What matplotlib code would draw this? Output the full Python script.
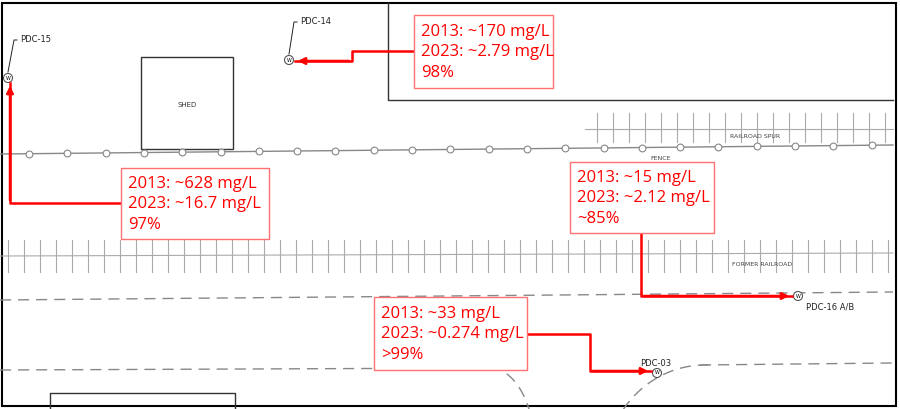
import numpy as np
import matplotlib.pyplot as plt
from matplotlib.patches import Rectangle, Circle

# Well data
wells = ["PDC-15", "PDC-14", "PDC-16 A/B", "PDC-03"]
conc_2013 = ["~628", "~170", "~15", "~33"]
conc_2023 = ["~16.7", "~2.79", "~2.12", "~0.274"]
reduction = ["97%", "98%", "~85%", ">99%"]

well_xy = [(8, 78), (289, 60), (798, 296), (657, 373)]
label_xy = [(20, 40), (300, 22), (806, 307), (640, 363)]
box_xy = [(121, 168, 148, 71), (414, 15, 139, 73), (570, 162, 144, 71), (374, 297, 153, 73)]
arrow_paths = [
    [(121, 203), (10, 203), (10, 83)],
    [(414, 51), (352, 51), (352, 61), (295, 61)],
    [(641, 233), (641, 296), (792, 296)],
    [(527, 334), (590, 334), (590, 371), (651, 371)],
]

fig = plt.figure(figsize=(9, 4.09), dpi=100)
ax = fig.add_axes([0, 0, 1, 1])
ax.set_xlim(0, 900)
ax.set_ylim(409, 0)
ax.axis("off")

grey = "#888888"
# border
ax.add_patch(Rectangle((2, 3), 894, 403, fill=False, ec="black", lw=1.5))
# building
ax.plot([388, 388, 893], [3, 100, 100], color="#333333", lw=1)
# shed
ax.add_patch(Rectangle((141, 57), 92, 92, fill=False, ec="#333333", lw=1))
ax.text(187, 105, "SHED", fontsize=5, ha="center", va="center", color="#333333")
# bottom-left structure
ax.plot([50, 50, 235, 235], [409, 393, 393, 409], color="#333333", lw=1)

# fence
fx = np.arange(29, 893, 38.3)
ax.plot([0, 893], [154, 145], color=grey, lw=1)
fy = 154 - (fx / 893) * 9
ax.scatter(fx, fy, s=24, facecolor="white", edgecolor=grey, lw=0.8, zorder=3)
ax.text(661, 158, "FENCE", fontsize=4.5, ha="center", va="center", color="#444444")

# railroad spur
ax.plot([585, 893], [129, 129], color="#aaaaaa", lw=0.8)
for x in np.arange(597, 893, 16):
    ax.plot([x, x], [113, 142], color="#aaaaaa", lw=0.8)
ax.text(755, 136, "RAILROAD SPUR", fontsize=4.5, ha="center", va="center", color="#444444")

# former railroad
ax.plot([0, 893], [256, 253], color="#aaaaaa", lw=0.8)
for x in np.arange(8, 893, 16):
    ax.plot([x, x], [240, 272], color="#aaaaaa", lw=0.8)
ax.text(762, 264, "FORMER RAILROAD", fontsize=4.5, ha="center", va="center", color="#444444")

# dashed roads
dash = dict(color=grey, lw=1, ls=(0, (8, 5)))
ax.plot([0, 893], [300, 292], **dash)
ax.plot([0, 490], [370, 368], **dash)
ax.plot([700, 893], [365, 363], **dash)
t = np.radians(np.linspace(-90, -25, 40))
ax.plot(490 + 45 * np.cos(t), 450 + 82 * np.sin(t), **dash)
t = np.radians(np.linspace(-150, -88, 40))
ax.plot(705 + 100 * np.cos(t), 470 + 105 * np.sin(t), **dash)

# wells
for (wx, wy), (lx, ly), name in zip(well_xy, label_xy, wells):
    ax.add_patch(Circle((wx, wy), 4.5, fc="white", ec="#555555", lw=0.8, zorder=4))
    ax.text(wx, wy, "W", fontsize=3.5, ha="center", va="center", zorder=5)
    ax.text(lx, ly, name, fontsize=6, ha="left", va="center", color="#222222")
    if name in ("PDC-15", "PDC-14"):
        ax.plot([lx - 3, lx - 6, wx], [ly, ly, wy - 6], color="#222222", lw=0.7)

# callouts
for (bx, by, bw, bh), a, b, r, path in zip(box_xy, conc_2013, conc_2023, reduction, arrow_paths):
    ax.add_patch(Rectangle((bx, by), bw, bh, fill=True, fc="white", ec="#ff7070", lw=1, zorder=6))
    txt = f"2013: {a} mg/L\n2023: {b} mg/L\n{r}"
    ax.text(bx + 7, by + bh / 2 + 1, txt, fontsize=12, color="#ff0000", family="Open Sans",
            ha="left", va="center", linespacing=1.35, zorder=7)
    xs, ys = zip(*path)
    ax.plot(xs, ys, color="#ff0000", lw=1.8, zorder=5)
    ax.annotate("", xy=path[-1], xytext=path[-2],
                arrowprops=dict(arrowstyle="-|>", color="#ff0000", lw=1.8, mutation_scale=10), zorder=5)

fig.savefig("out.png", dpi=100)
